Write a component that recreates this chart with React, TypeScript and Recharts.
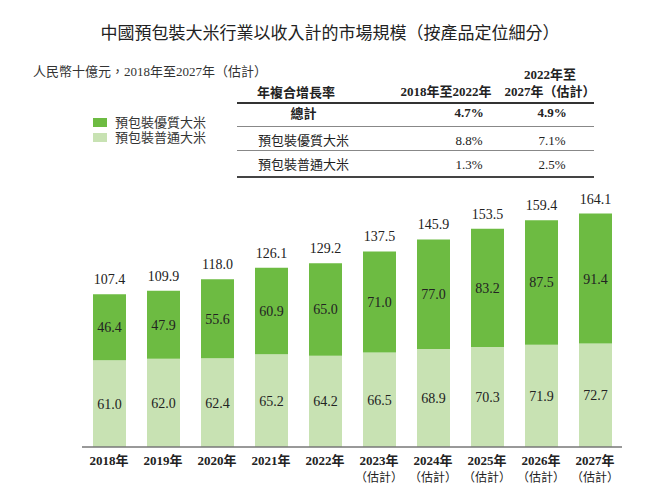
import React from 'react';
import { BarChart, Bar, XAxis, YAxis, LabelList } from 'recharts';

const years = ['2018', '2019', '2020', '2021', '2022', '2023', '2024', '2025', '2026', '2027'];
const estimated = [false, false, false, false, false, true, true, true, true, true];
const premium = [46.4, 47.9, 55.6, 60.9, 65.0, 71.0, 77.0, 83.2, 87.5, 91.4];
const regular = [61.0, 62.0, 62.4, 65.2, 64.2, 66.5, 68.9, 70.3, 71.9, 72.7];
const totals = [107.4, 109.9, 118.0, 126.1, 129.2, 137.5, 145.9, 153.5, 159.4, 164.1];

const cagrRows = ['總計', '預包裝優質大米', '預包裝普通大米'];
const cagr2018to2022 = ['4.7%', '8.8%', '1.3%'];
const cagr2022to2027 = ['4.9%', '7.1%', '2.5%'];

const DARK = '#6dbb42';
const LIGHT = '#c8e2b3';
const SERIF = '"Liberation Serif", "Times New Roman", "Noto Sans CJK TC", serif';
const SANS = '"Noto Sans CJK TC", "Noto Sans", sans-serif';

const data = years.map((y, i) => ({
  year: y,
  regular: regular[i],
  premium: premium[i],
  total: totals[i],
}));

const YearTick = (props: any) => {
  const { x, y, payload, index } = props;
  return (
    <g transform={`translate(${x},${y})`}>
      <text textAnchor="middle" dy={16} fontFamily={SERIF} fontWeight="bold" fontSize={13} fill="#222">
        {payload.value}年
      </text>
      {estimated[index] && (
        <text textAnchor="middle" dy={33} fontFamily={SANS} fontSize={12} fill="#222">
          （估計）
        </text>
      )}
    </g>
  );
};

const fmt = (v: any) => Number(v).toFixed(1);

const LegendBox = () => (
  <div style={{ position: 'absolute', left: 93, top: 115, fontFamily: SERIF, fontSize: 13, lineHeight: '15px', color: '#333' }}>
    {[['預包裝優質大米', DARK], ['預包裝普通大米', LIGHT]].map(([label, c]) => (
      <div key={label} style={{ display: 'flex', alignItems: 'center', height: 15 }}>
        <span style={{ width: 14, height: 9, background: c, marginRight: 8, display: 'inline-block' }} />
        {label}
      </div>
    ))}
  </div>
);

const cell = (left: number, top: number, width: number, text: string, font: string, bold: boolean, align: any = 'center') => (
  <div style={{ position: 'absolute', left, top, width, textAlign: align, fontFamily: font, fontWeight: bold ? 'bold' : 'normal', fontSize: 13, lineHeight: '16px', whiteSpace: 'nowrap' }}>
    {text}
  </div>
);

const CagrTable = () => {
  const rowCenters = [113, 141, 165];
  const lines = [126, 150, 176];
  return (
    <div style={{ position: 'absolute', left: 0, top: 0, width: 660, height: 200, color: '#222' }}>
      {cell(257, 84, 93, '年複合增長率', SANS, true, 'left')}
      {cell(396, 84, 100, '2018年至2022年', SERIF, true)}
      {cell(500, 67, 100, '2022年至', SERIF, true)}
      {cell(500, 84, 100, '2027年（估計）', SERIF, true)}
      <div style={{ position: 'absolute', left: 237, top: 102, width: 357, height: 2, background: '#333' }} />
      {cagrRows.map((r, i) => (
        <React.Fragment key={r}>
          {cell(257, rowCenters[i] - 8, 93, r, i === 0 ? SANS : SERIF, i === 0)}
          {cell(429, rowCenters[i] - 8, 80, cagr2018to2022[i], SERIF, i === 0)}
          {cell(512, rowCenters[i] - 8, 80, cagr2022to2027[i], SERIF, i === 0)}
          <div style={{ position: 'absolute', left: 237, top: lines[i], width: 357, height: i === 2 ? 2 : 1, background: i === 2 ? '#444' : '#888' }} />
        </React.Fragment>
      ))}
    </div>
  );
};

export default function App() {
  return (
    <div style={{ position: 'absolute', left: 0, top: 0, width: 660, height: 503, background: '#fff' }}>
      <div style={{ position: 'absolute', left: 0, top: 20, width: 660, textAlign: 'center', fontFamily: SANS, fontSize: 17, lineHeight: '24px', color: '#222' }}>
        中國預包裝大米行業以收入計的市場規模（按產品定位細分）
      </div>
      <div style={{ position: 'absolute', left: 33, top: 64, fontFamily: SERIF, fontSize: 13, lineHeight: '16px', color: '#333' }}>
        人民幣十億元，2018年至2027年（估計）
      </div>
      <CagrTable />
      <LegendBox />
      <BarChart
        width={660}
        height={503}
        data={data}
        margin={{ top: 191, right: 38, left: 82, bottom: 0 }}
        barSize={33}
        style={{ position: 'absolute', left: 0, top: 0 }}
      >
        <XAxis
          dataKey="year"
          height={56}
          tick={<YearTick />}
          tickLine={false}
          tickSize={0}
          axisLine={{ stroke: '#777', strokeWidth: 1.5 }}
          interval={0}
        />
        <YAxis hide domain={[0, 180]} />
        <Bar dataKey="regular" stackId="a" fill={LIGHT} isAnimationActive={false}>
          <LabelList dataKey="regular" position="center" formatter={fmt} fontFamily={SERIF} fontSize={14} fill="#222" />
        </Bar>
        <Bar dataKey="premium" stackId="a" fill={DARK} isAnimationActive={false}>
          <LabelList dataKey="premium" position="center" formatter={fmt} fontFamily={SERIF} fontSize={14} fill="#222" />
          <LabelList dataKey="total" position="top" offset={10} formatter={fmt} fontFamily={SERIF} fontSize={14} fill="#222" />
        </Bar>
      </BarChart>
    </div>
  );
}
